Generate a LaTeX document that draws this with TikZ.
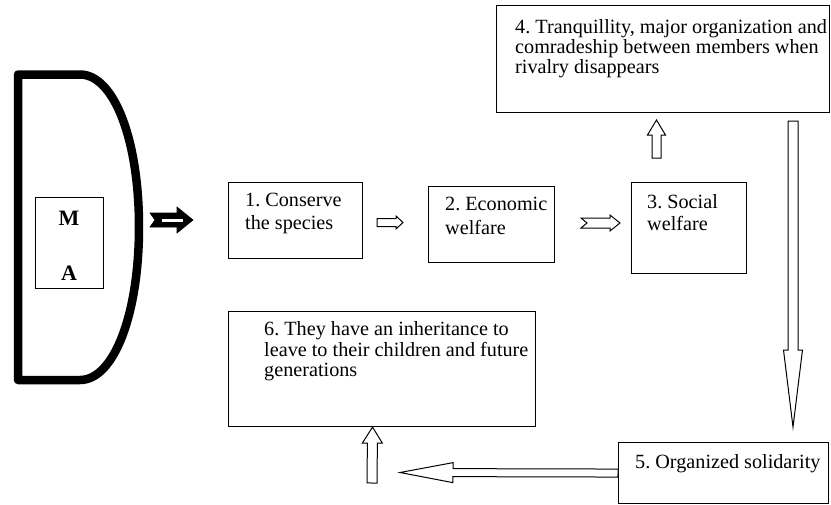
\documentclass[tikz,border=0pt]{standalone}
\usepackage{fontspec}
\setmainfont{Liberation Serif}
\usetikzlibrary{calc}
\frenchspacing

% hollow block arrow: [style]{tail}{tip}{shaft half}{head half}{head length}{notch}
\newcommand{\blockarrow}[7][arrowline]{%
  \coordinate (ba-h) at ($(#3)!#6!(#2)$);
  \draw[#1] ($(#2)!#4!90:(#3)$) -- ($(ba-h)!#4!90:(#3)$) -- ($(ba-h)!#5!90:(#3)$) -- (#3)
    -- ($(ba-h)!#5!-90:(#3)$) -- ($(ba-h)!#4!-90:(#3)$) -- ($(#2)!#4!-90:(#3)$)
    -- ($(#2)!#7!(#3)$) -- cycle;
}

\tikzset{
  stage/.style={draw, line width=1.1pt, anchor=north west, inner sep=0pt},
  stagetext/.style={anchor=north west, inner sep=0pt, align=left,
    font=\fontsize{20.2}{#1}\selectfont},
  stagetext/.default=20.5,
  letter/.style={inner sep=0pt, font=\fontsize{22}{24}\selectfont\bfseries},
  arrowline/.style={draw, fill=white, line width=1pt, line join=miter},
  solidarrow/.style={draw, fill=black, line width=0.6pt, line join=miter},
}

\begin{document}
\begin{tikzpicture}[x=1pt, y=-1pt]
\useasboundingbox (0,0) rectangle (831,504);
\providecommand{\shellLineWidth}{8.5pt}
% Outer shell
\draw[line width=\shellLineWidth, line join=round]
  (18,74.5) -- (80,74.5) .. controls (114,74.5) and (139,140) .. (139,227)
  .. controls (139,314) and (114,380) .. (80,380) -- (18,380) -- cycle;
% M / A box
\node[stage, minimum width=68pt, minimum height=91pt] (ma) at (35,197) {};
\node[letter] (m) at (69,218.7) {M};
\node[letter] (a) at (69,273) {A};
% Stages
\node[stage, minimum width=134pt, minimum height=76pt] (s1) at (228,182) {};
\node[stage, minimum width=126pt, minimum height=76pt] (s2) at (428,186) {};
\node[stage, minimum width=115pt, minimum height=91pt] (s3) at (631,182) {};
\node[stage, minimum width=333pt, minimum height=107pt] (s4) at (496,5) {};
\node[stage, minimum width=210pt, minimum height=61pt] (s5) at (618,442) {};
\node[stage, minimum width=307pt, minimum height=115pt] (s6) at (228,311) {};
% Stage texts
\node[stagetext=23] (t1) at (245,193.4) {1. Conserve\\the species};
\node[stagetext=24] (t2) at (445,196.8) {2. Economic\\welfare};
\node[stagetext=22] (t3) at (647,194.4) {3. Social\\welfare};
\node[stagetext=19.8] (t4) at (515,19.4) {4. Tranquillity, major organization and\\comradeship between members when\\rivalry disappears};
\node[stagetext] (t5) at (635,454.3) {5. Organized solidarity};
\node[stagetext] (t6) at (264,321.4) {6. They have an inheritance to\\leave to their children and future\\generations};
% Arrow ends
\coordinate (a0t) at (150,220);
\coordinate (a0h) at (193,220);
\coordinate (a1t) at (377,222.5);
\coordinate (a1h) at (403,222.5);
\coordinate (a2t) at (581,223);
\coordinate (a2h) at (620,223);
\coordinate (a3t) at (656.5,158);
\coordinate (a3h) at (656.5,120);
\coordinate (a4t) at (793,121);
\coordinate (a4h) at (793,427);
\coordinate (a5h) at (400,472.5);
\coordinate (a6t) at (372,483);
% Arrows
\blockarrow[solidarrow]{a0t}{a0h}{7pt}{13pt}{16pt}{5pt}
\fill[white] ([xshift=12pt,yshift=-1.5pt]a0t) rectangle ([xshift=-10pt,yshift=1.5pt]a0h);
\blockarrow{a1t}{a1h}{4pt}{6.5pt}{7pt}{0pt}
\blockarrow{a2t}{a2h}{5pt}{8pt}{10pt}{6pt}
\blockarrow{a3t}{a3h}{4.5pt}{9pt}{15pt}{0pt}
\blockarrow{a4t}{a4h}{5pt}{9.5pt}{77pt}{0pt}
\blockarrow{s5.west}{a5h}{4pt}{10pt}{53pt}{0pt}
\blockarrow{a6t}{[xshift=-9.5pt]s6.south}{5pt}{10pt}{16pt}{0pt}
\end{tikzpicture}
\end{document}
